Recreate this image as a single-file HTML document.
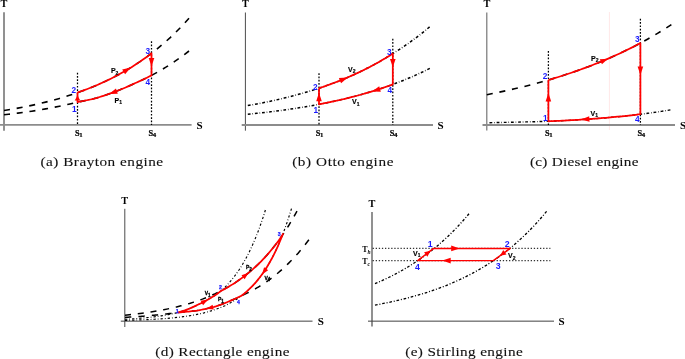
<!DOCTYPE html>
<html><head><meta charset="utf-8"><title>Engine cycles</title>
<style>
html,body{margin:0;padding:0;background:#fff;}
svg{display:block;}
</style></head>
<body>
<svg width="685" height="359" viewBox="0 0 685 359">
<rect width="685" height="359" fill="#fff"/>
<line x1="4.00" y1="12.30" x2="4.00" y2="130.70" stroke="#8c8c8c" stroke-width="1.9"/>
<line x1="0.00" y1="124.90" x2="191.60" y2="124.90" stroke="#8c8c8c" stroke-width="1.9"/>
<path d="M4.00,110.50 L8.62,109.75 L13.25,108.96 L17.88,108.13 L22.50,107.25 L27.12,106.33 L31.75,105.36 L36.38,104.35 L41.00,103.27 L45.62,102.15 L50.25,100.96 L54.88,99.71 L59.50,98.40 L64.12,97.02 L68.75,95.56 L73.38,94.03 L78.00,92.43 L82.62,90.77 L87.25,89.03 L91.88,87.20 L96.50,85.28 L101.12,83.25 L105.75,81.13 L110.38,78.90 L115.00,76.55 L119.62,74.08 L124.25,71.49 L128.88,68.77 L133.50,65.90 L138.12,62.89 L142.75,59.73 L147.38,56.41 L152.00,52.92 L156.62,49.30 L161.25,45.49 L165.88,41.50 L170.50,37.30 L175.12,32.90 L179.75,28.27 L184.38,23.41 L189.00,18.30" fill="none" stroke="#000" stroke-width="1.6" stroke-dasharray="6.026 6.803" stroke-linecap="butt" stroke-linejoin="round"/>
<path d="M4.00,114.80 L8.62,114.27 L13.25,113.71 L17.88,113.12 L22.50,112.50 L27.12,111.85 L31.75,111.17 L36.38,110.44 L41.00,109.68 L45.62,108.88 L50.25,108.04 L54.88,107.15 L59.50,106.22 L64.12,105.24 L68.75,104.21 L73.38,103.12 L78.00,102.00 L82.62,101.10 L87.25,100.16 L91.88,99.18 L96.50,98.04 L101.12,96.59 L105.75,95.05 L110.38,93.43 L115.00,91.72 L119.62,89.92 L124.25,88.02 L128.88,86.02 L133.50,83.91 L138.12,81.82 L142.75,79.70 L147.38,77.48 L152.00,75.13 L156.62,72.61 L161.25,69.96 L165.88,67.18 L170.50,64.26 L175.12,61.18 L179.75,57.96 L184.38,54.56 L189.00,51.00" fill="none" stroke="#000" stroke-width="1.6" stroke-dasharray="6.025 6.802" stroke-linecap="butt" stroke-linejoin="round"/>
<line x1="77.50" y1="72.70" x2="77.50" y2="124.90" stroke="#000" stroke-width="1.25" stroke-dasharray="1.7 1.6"/>
<line x1="151.50" y1="41.30" x2="151.50" y2="124.90" stroke="#000" stroke-width="1.25" stroke-dasharray="1.7 1.6"/>
<path d="M77.50,92.60 L79.35,91.95 L81.20,91.29 L83.05,90.61 L84.90,89.92 L86.75,89.22 L88.60,88.50 L90.45,87.77 L92.30,87.03 L94.15,86.26 L96.00,85.49 L97.85,84.70 L99.70,83.89 L101.55,83.06 L103.40,82.22 L105.25,81.36 L107.10,80.49 L108.95,79.60 L110.80,78.69 L112.65,77.76 L114.50,76.81 L116.35,75.84 L118.20,74.86 L120.05,73.85 L121.90,72.83 L123.75,71.78 L125.60,70.71 L127.45,69.62 L129.30,68.51 L131.15,67.38 L133.00,66.22 L134.85,65.04 L136.70,63.84 L138.55,62.61 L140.40,61.36 L142.25,60.08 L144.10,58.78 L145.95,57.45 L147.80,56.09 L149.65,54.71 L151.50,53.30 L151.50,75.40 L149.65,76.34 L147.80,77.27 L145.95,78.17 L144.10,79.06 L142.25,79.94 L140.40,80.79 L138.55,81.63 L136.70,82.46 L134.85,83.27 L133.00,84.14 L131.15,84.99 L129.30,85.83 L127.45,86.65 L125.60,87.45 L123.75,88.23 L121.90,89.00 L120.05,89.75 L118.20,90.48 L116.35,91.20 L114.50,91.91 L112.65,92.60 L110.80,93.28 L108.95,93.94 L107.10,94.58 L105.25,95.22 L103.40,95.84 L101.55,96.45 L99.70,97.04 L97.85,97.63 L96.00,98.20 L94.15,98.69 L92.30,99.09 L90.45,99.49 L88.60,99.88 L86.75,100.26 L84.90,100.64 L83.05,101.01 L81.20,101.38 L79.35,101.74 L77.50,102.10 L77.50,92.60" fill="none" stroke="#ff0000" stroke-width="1.75" stroke-linecap="butt" stroke-linejoin="round"/>
<polygon points="130.80,67.59 125.10,74.37 122.17,69.59" fill="#ff0000"/>
<polygon points="151.50,66.40 148.70,58.00 154.30,58.00" fill="#ff0000"/>
<polygon points="109.00,93.92 115.97,88.45 117.85,93.73" fill="#ff0000"/>
<polygon points="77.50,95.40 80.30,100.40 74.70,100.40" fill="#ff0000"/>
<text x="71.40" y="92.80" font-family='"Liberation Sans", Arial, sans-serif' font-size="8.3" font-weight="bold" fill="#1a1aff" text-anchor="start">2</text>
<text x="71.90" y="112.40" font-family='"Liberation Sans", Arial, sans-serif' font-size="8.3" font-weight="bold" fill="#1a1aff" text-anchor="start">1</text>
<text x="145.40" y="54.40" font-family='"Liberation Sans", Arial, sans-serif' font-size="8.3" font-weight="bold" fill="#1a1aff" text-anchor="start">3</text>
<text x="145.40" y="85.40" font-family='"Liberation Sans", Arial, sans-serif' font-size="8.3" font-weight="bold" fill="#1a1aff" text-anchor="start">4</text>
<text x="110.90" y="73.00" font-family='"Liberation Sans", Arial, sans-serif' font-size="7" font-weight="bold" fill="#000" text-anchor="start" stroke="#000" stroke-width="0.15">P<tspan font-size="5" dy="1.5">2</tspan></text>
<text x="114.60" y="102.50" font-family='"Liberation Sans", Arial, sans-serif' font-size="7" font-weight="bold" fill="#000" text-anchor="start" stroke="#000" stroke-width="0.15">P<tspan font-size="5" dy="1.5">1</tspan></text>
<text x="75.00" y="136.00" font-family='"Liberation Serif", "Times New Roman", serif' font-size="8.3" font-weight="bold" fill="#000" text-anchor="start" stroke="#000" stroke-width="0.2">S<tspan font-size="6.8" dy="1.1" dx="-0.4">1</tspan></text>
<text x="148.40" y="136.00" font-family='"Liberation Serif", "Times New Roman", serif' font-size="8.3" font-weight="bold" fill="#000" text-anchor="start" stroke="#000" stroke-width="0.2">S<tspan font-size="6.8" dy="1.1" dx="-0.4">4</tspan></text>
<text x="196.60" y="128.70" font-family='"Liberation Serif", "Times New Roman", serif' font-size="11" font-weight="bold" fill="#000" text-anchor="start">S</text>
<text x="4.00" y="6.70" font-family='"Liberation Serif", "Times New Roman", serif' font-size="10.3" font-weight="bold" fill="#000" text-anchor="middle">T</text>
<line x1="245.40" y1="12.50" x2="245.40" y2="130.70" stroke="#4c4c4c" stroke-width="1.0"/>
<line x1="241.70" y1="125.00" x2="433.00" y2="125.00" stroke="#8c8c8c" stroke-width="1.9"/>
<path d="M247.80,105.60 L252.34,104.79 L256.89,103.95 L261.44,103.07 L265.98,102.15 L270.53,101.20 L275.07,100.21 L279.62,99.17 L284.16,98.10 L288.71,96.98 L293.25,95.81 L297.80,94.59 L302.34,93.32 L306.88,92.00 L311.43,90.62 L315.98,89.19 L320.52,87.69 L325.07,86.14 L329.61,84.52 L334.16,82.83 L338.70,81.08 L343.25,79.25 L347.79,77.34 L352.34,75.36 L356.88,73.29 L361.43,71.13 L365.97,68.89 L370.51,66.55 L375.06,64.12 L379.61,61.58 L384.15,58.94 L388.70,56.18 L393.24,53.33 L397.79,50.46 L402.33,47.48 L406.88,44.38 L411.42,41.15 L415.97,37.79 L420.51,34.30 L425.06,30.67 L429.60,26.90" fill="none" stroke="#000" stroke-width="1.5" stroke-dasharray="2.848 1.933 0.610 1.933" stroke-linecap="butt" stroke-linejoin="round"/>
<path d="M247.80,114.30 L252.35,113.84 L256.90,113.36 L261.45,112.86 L266.00,112.33 L270.55,111.79 L275.10,111.22 L279.65,110.63 L284.20,110.01 L288.75,109.36 L293.30,108.69 L297.85,107.98 L302.40,107.25 L306.95,106.49 L311.50,105.69 L316.05,104.86 L320.60,104.00 L325.15,103.10 L329.70,102.18 L334.25,101.21 L338.80,100.20 L343.35,99.15 L347.90,98.05 L352.45,96.91 L357.00,95.72 L361.55,94.48 L366.10,93.18 L370.65,91.83 L375.20,90.43 L379.75,88.96 L384.30,87.43 L388.85,85.84 L393.40,84.18 L397.95,82.48 L402.50,80.71 L407.05,78.86 L411.60,76.93 L416.15,74.93 L420.70,72.84 L425.25,70.67 L429.80,68.40" fill="none" stroke="#000" stroke-width="1.5" stroke-dasharray="2.782 1.888 0.596 1.888" stroke-linecap="butt" stroke-linejoin="round"/>
<line x1="319.00" y1="73.20" x2="319.00" y2="125.00" stroke="#000" stroke-width="1.25" stroke-dasharray="1.7 1.6"/>
<line x1="392.80" y1="38.80" x2="392.80" y2="125.00" stroke="#000" stroke-width="1.25" stroke-dasharray="1.7 1.6"/>
<path d="M319.00,88.20 L320.85,87.59 L322.69,86.96 L324.54,86.32 L326.38,85.68 L328.23,85.02 L330.07,84.35 L331.92,83.67 L333.76,82.98 L335.61,82.28 L337.45,81.57 L339.30,80.84 L341.14,80.10 L342.99,79.35 L344.83,78.59 L346.68,77.82 L348.52,77.03 L350.37,76.23 L352.21,75.41 L354.06,74.58 L355.90,73.74 L357.75,72.88 L359.59,72.01 L361.44,71.13 L363.28,70.23 L365.12,69.31 L366.97,68.38 L368.81,67.44 L370.66,66.47 L372.50,65.50 L374.35,64.50 L376.19,63.49 L378.04,62.46 L379.88,61.42 L381.73,60.36 L383.58,59.28 L385.42,58.18 L387.26,57.06 L389.11,55.93 L390.96,54.77 L392.80,53.60 L392.80,84.40 L390.96,85.08 L389.11,85.74 L387.26,86.40 L385.42,87.04 L383.58,87.68 L381.73,88.30 L379.88,88.91 L378.04,89.52 L376.19,90.11 L374.35,90.69 L372.50,91.27 L370.66,91.83 L368.81,92.38 L366.97,92.93 L365.12,93.46 L363.28,93.99 L361.44,94.51 L359.59,95.02 L357.75,95.52 L355.90,96.01 L354.06,96.49 L352.21,96.97 L350.37,97.44 L348.52,97.90 L346.68,98.35 L344.83,98.80 L342.99,99.23 L341.14,99.66 L339.30,100.09 L337.45,100.50 L335.61,100.91 L333.76,101.31 L331.92,101.71 L330.07,102.10 L328.23,102.48 L326.38,102.86 L324.54,103.23 L322.69,103.59 L320.85,103.95 L319.00,104.30 L319.00,88.20" fill="none" stroke="#ff0000" stroke-width="1.75" stroke-linecap="butt" stroke-linejoin="round"/>
<polygon points="347.70,77.38 341.08,83.25 338.88,78.10" fill="#ff0000"/>
<polygon points="392.80,67.30 390.00,58.90 395.60,58.90" fill="#ff0000"/>
<polygon points="372.00,91.42 379.22,86.29 380.85,91.64" fill="#ff0000"/>
<polygon points="319.00,92.80 321.80,101.20 316.20,101.20" fill="#ff0000"/>
<text x="312.90" y="89.50" font-family='"Liberation Sans", Arial, sans-serif' font-size="8.3" font-weight="bold" fill="#1a1aff" text-anchor="start">2</text>
<text x="313.40" y="112.50" font-family='"Liberation Sans", Arial, sans-serif' font-size="8.3" font-weight="bold" fill="#1a1aff" text-anchor="start">1</text>
<text x="386.90" y="54.70" font-family='"Liberation Sans", Arial, sans-serif' font-size="8.3" font-weight="bold" fill="#1a1aff" text-anchor="start">3</text>
<text x="387.40" y="93.00" font-family='"Liberation Sans", Arial, sans-serif' font-size="8.3" font-weight="bold" fill="#1a1aff" text-anchor="start">4</text>
<text x="348.00" y="71.50" font-family='"Liberation Sans", Arial, sans-serif' font-size="7" font-weight="bold" fill="#000" text-anchor="start" stroke="#000" stroke-width="0.15">V<tspan font-size="5" dy="1.5">2</tspan></text>
<text x="352.00" y="104.00" font-family='"Liberation Sans", Arial, sans-serif' font-size="7" font-weight="bold" fill="#000" text-anchor="start" stroke="#000" stroke-width="0.15">V<tspan font-size="5" dy="1.5">1</tspan></text>
<text x="315.70" y="136.00" font-family='"Liberation Serif", "Times New Roman", serif' font-size="8.3" font-weight="bold" fill="#000" text-anchor="start" stroke="#000" stroke-width="0.2">S<tspan font-size="6.8" dy="1.1" dx="-0.4">1</tspan></text>
<text x="389.70" y="136.00" font-family='"Liberation Serif", "Times New Roman", serif' font-size="8.3" font-weight="bold" fill="#000" text-anchor="start" stroke="#000" stroke-width="0.2">S<tspan font-size="6.8" dy="1.1" dx="-0.4">4</tspan></text>
<text x="437.50" y="128.70" font-family='"Liberation Serif", "Times New Roman", serif' font-size="11" font-weight="bold" fill="#000" text-anchor="start">S</text>
<text x="245.45" y="6.70" font-family='"Liberation Serif", "Times New Roman", serif' font-size="10.3" font-weight="bold" fill="#000" text-anchor="middle">T</text>
<line x1="609.40" y1="12.00" x2="609.40" y2="130.00" stroke="#ffd6d6" stroke-width="0.6"/>
<line x1="486.80" y1="12.50" x2="486.80" y2="130.50" stroke="#707070" stroke-width="1.15"/>
<line x1="482.50" y1="124.95" x2="675.00" y2="124.95" stroke="#8c8c8c" stroke-width="1.9"/>
<path d="M486.80,94.70 L491.42,93.79 L496.03,92.85 L500.64,91.88 L505.26,90.89 L509.88,89.86 L514.49,88.81 L519.11,87.72 L523.72,86.60 L528.34,85.44 L532.95,84.25 L537.57,83.02 L542.18,81.76 L546.79,80.46 L551.41,79.11 L556.02,77.71 L560.64,76.27 L565.25,74.78 L569.87,73.25 L574.49,71.67 L579.10,70.05 L583.72,68.37 L588.33,66.65 L592.94,64.87 L597.56,63.03 L602.17,61.14 L606.79,59.20 L611.40,57.19 L616.02,55.12 L620.63,52.99 L625.25,50.79 L629.87,48.53 L634.48,46.20 L639.10,43.79 L643.71,41.30 L648.33,38.72 L652.94,36.07 L657.55,33.33 L662.17,30.51 L666.78,27.60 L671.40,24.60" fill="none" stroke="#000" stroke-width="1.6" stroke-dasharray="6.035 6.814" stroke-linecap="butt" stroke-linejoin="round"/>
<path d="M489.50,122.70 L494.02,122.61 L498.55,122.53 L503.07,122.43 L507.59,122.34 L512.11,122.24 L516.63,122.14 L521.16,122.03 L525.68,121.92 L530.20,121.81 L534.73,121.69 L539.25,121.56 L543.77,121.44 L548.29,121.30 L552.81,121.11 L557.34,120.90 L561.86,120.68 L566.38,120.44 L570.90,120.20 L575.43,119.94 L579.95,119.66 L584.47,119.38 L589.00,119.07 L593.52,118.75 L598.04,118.41 L602.56,118.06 L607.09,117.68 L611.61,117.28 L616.13,116.87 L620.65,116.42 L625.17,115.96 L629.70,115.47 L634.22,114.95 L638.74,114.41 L643.26,113.85 L647.79,113.27 L652.31,112.66 L656.83,112.02 L661.36,111.35 L665.88,110.64 L670.40,109.90" fill="none" stroke="#000" stroke-width="1.4" stroke-dasharray="2.780 1.887 0.596 1.887" stroke-linecap="butt" stroke-linejoin="round"/>
<line x1="548.40" y1="51.00" x2="548.40" y2="124.95" stroke="#000" stroke-width="1.25" stroke-dasharray="1.7 1.6"/>
<line x1="640.40" y1="18.80" x2="640.40" y2="124.95" stroke="#000" stroke-width="1.25" stroke-dasharray="1.7 1.6"/>
<path d="M548.40,80.00 L550.70,79.32 L553.00,78.63 L555.30,77.93 L557.60,77.22 L559.90,76.50 L562.20,75.77 L564.50,75.03 L566.80,74.28 L569.10,73.51 L571.40,72.73 L573.70,71.95 L576.00,71.15 L578.30,70.33 L580.60,69.51 L582.90,68.67 L585.20,67.82 L587.50,66.96 L589.80,66.08 L592.10,65.20 L594.40,64.29 L596.70,63.38 L599.00,62.45 L601.30,61.51 L603.60,60.55 L605.90,59.58 L608.20,58.59 L610.50,57.59 L612.80,56.57 L615.10,55.54 L617.40,54.49 L619.70,53.43 L622.00,52.35 L624.30,51.25 L626.60,50.14 L628.90,49.01 L631.20,47.86 L633.50,46.70 L635.80,45.52 L638.10,44.32 L640.40,43.10 L640.40,114.20 L638.10,114.49 L635.80,114.77 L633.50,115.04 L631.20,115.30 L628.90,115.56 L626.60,115.81 L624.30,116.05 L622.00,116.29 L619.70,116.52 L617.40,116.74 L615.10,116.96 L612.80,117.18 L610.50,117.38 L608.20,117.58 L605.90,117.78 L603.60,117.97 L601.30,118.16 L599.00,118.34 L596.70,118.51 L594.40,118.69 L592.10,118.85 L589.80,119.02 L587.50,119.17 L585.20,119.33 L582.90,119.48 L580.60,119.62 L578.30,119.76 L576.00,119.90 L573.70,120.04 L571.40,120.17 L569.10,120.30 L566.80,120.42 L564.50,120.54 L562.20,120.66 L559.90,120.77 L557.60,120.88 L555.30,120.99 L553.00,121.10 L550.70,121.20 L548.40,121.30 L548.40,80.00" fill="none" stroke="#ff0000" stroke-width="1.75" stroke-linecap="butt" stroke-linejoin="round"/>
<polygon points="608.00,58.67 601.94,64.32 599.73,59.18" fill="#ff0000"/>
<polygon points="640.40,75.00 637.60,66.60 643.20,66.60" fill="#ff0000"/>
<polygon points="581.00,119.60 589.21,116.27 589.56,121.86" fill="#ff0000"/>
<polygon points="548.40,93.00 551.20,101.40 545.60,101.40" fill="#ff0000"/>
<text x="542.70" y="79.00" font-family='"Liberation Sans", Arial, sans-serif' font-size="8.3" font-weight="bold" fill="#1a1aff" text-anchor="start">2</text>
<text x="542.90" y="121.00" font-family='"Liberation Sans", Arial, sans-serif' font-size="8.3" font-weight="bold" fill="#1a1aff" text-anchor="start">1</text>
<text x="635.10" y="41.50" font-family='"Liberation Sans", Arial, sans-serif' font-size="8.3" font-weight="bold" fill="#1a1aff" text-anchor="start">3</text>
<text x="634.90" y="121.50" font-family='"Liberation Sans", Arial, sans-serif' font-size="8.3" font-weight="bold" fill="#1a1aff" text-anchor="start">4</text>
<text x="591.00" y="60.80" font-family='"Liberation Sans", Arial, sans-serif' font-size="7" font-weight="bold" fill="#000" text-anchor="start" stroke="#000" stroke-width="0.15">P<tspan font-size="5" dy="1.5">2</tspan></text>
<text x="590.50" y="115.50" font-family='"Liberation Sans", Arial, sans-serif' font-size="7" font-weight="bold" fill="#000" text-anchor="start" stroke="#000" stroke-width="0.15">V<tspan font-size="5" dy="1.5">1</tspan></text>
<text x="545.10" y="136.00" font-family='"Liberation Serif", "Times New Roman", serif' font-size="8.3" font-weight="bold" fill="#000" text-anchor="start" stroke="#000" stroke-width="0.2">S<tspan font-size="6.8" dy="1.1" dx="-0.4">1</tspan></text>
<text x="637.50" y="136.00" font-family='"Liberation Serif", "Times New Roman", serif' font-size="8.3" font-weight="bold" fill="#000" text-anchor="start" stroke="#000" stroke-width="0.2">S<tspan font-size="6.8" dy="1.1" dx="-0.4">4</tspan></text>
<text x="680.00" y="128.70" font-family='"Liberation Serif", "Times New Roman", serif' font-size="11" font-weight="bold" fill="#000" text-anchor="start">S</text>
<text x="486.85" y="6.70" font-family='"Liberation Serif", "Times New Roman", serif' font-size="10.3" font-weight="bold" fill="#000" text-anchor="middle">T</text>
<line x1="124.80" y1="208.80" x2="124.80" y2="327.00" stroke="#4c4c4c" stroke-width="1.0"/>
<line x1="120.80" y1="321.15" x2="312.50" y2="321.15" stroke="#404040" stroke-width="1.0"/>
<path d="M125.00,315.24 L129.30,314.79 L133.60,314.30 L137.90,313.79 L142.20,313.23 L146.50,312.63 L150.80,311.98 L155.10,311.28 L159.40,310.54 L163.70,309.73 L168.00,308.87 L172.30,307.93 L176.60,306.93 L180.90,305.85 L185.20,304.69 L189.50,303.45 L193.80,302.10 L198.10,300.66 L202.40,299.10 L206.70,297.43 L211.00,295.63 L215.30,293.70 L219.60,291.62 L223.90,289.38 L228.20,286.97 L232.50,284.37 L236.80,281.59 L241.10,278.58 L245.40,275.36 L249.70,271.88 L254.00,268.15 L258.30,264.13 L262.60,259.80 L266.90,255.15 L271.20,250.15 L275.50,244.76 L279.80,238.97 L284.10,232.73 L288.40,226.03 L292.70,218.82 L297.00,211.06" fill="none" stroke="#000" stroke-width="1.5" stroke-dasharray="6.036 6.815" stroke-linecap="butt" stroke-linejoin="round"/>
<path d="M125.00,317.40 L126.53,317.31 L128.06,317.22 L129.60,317.12 L131.13,317.02 L132.66,316.92 L134.19,316.82 L135.73,316.71 L137.26,316.60 L138.79,316.49 L140.32,316.38 L141.86,316.26 L143.39,316.14 L144.92,316.02 L146.45,315.90 L147.99,315.77 L149.52,315.64 L151.05,315.51 L152.59,315.37 L154.12,315.23 L155.65,315.08 L157.18,314.93 L158.72,314.78 L160.25,314.63 L161.78,314.47 L163.31,314.31 L164.84,314.14 L166.38,313.97 L167.91,313.79 L169.44,313.62 L170.97,313.43 L172.51,313.24 L174.04,313.05 L175.57,312.85 L177.10,312.65 L178.64,312.50 L180.17,312.35 L181.70,312.21 L183.23,312.06 L184.77,311.91 L186.30,311.75 L187.83,311.60 L189.37,311.44 L190.90,311.28 L192.43,311.12 L193.96,310.95 L195.50,310.78 L197.03,310.61 L198.56,310.32 L200.09,310.02 L201.62,309.71 L203.16,309.39 L204.69,309.07 L206.22,308.73 L207.75,308.39 L209.29,308.03 L210.82,307.67 L212.35,307.30 L213.88,306.91 L215.42,306.50 L216.95,306.00 L218.48,305.48 L220.01,304.94 L221.55,304.38 L223.08,303.81 L224.61,303.21 L226.14,302.60 L227.68,301.96 L229.21,301.31 L230.74,300.63 L232.27,299.94 L233.81,299.29 L235.34,298.63 L236.87,297.94 L238.40,297.24 L239.94,296.51 L241.47,295.77 L243.00,295.08 L244.53,294.37 L246.07,293.64 L247.60,292.89 L249.13,292.12 L250.66,291.32 L252.20,290.51 L253.73,289.68 L255.26,288.82 L256.79,287.94 L258.33,287.03 L259.86,286.10 L261.39,285.15 L262.92,284.16 L264.46,283.16 L265.99,282.12 L267.52,281.06 L269.05,279.96 L270.59,278.84 L272.12,277.69 L273.65,276.50 L275.18,275.29 L276.72,274.04 L278.25,272.75 L279.78,271.43 L281.31,270.08 L282.85,268.68 L284.38,267.25 L285.91,265.79 L287.44,264.34 L288.98,262.86 L290.51,261.34 L292.04,259.78 L293.57,258.18 L295.11,256.54 L296.64,254.85 L298.17,253.13 L299.70,251.35 L301.24,249.53 L302.77,247.67 L304.30,245.75 L305.83,243.79 L307.37,241.77 L308.90,239.70" fill="none" stroke="#000" stroke-width="1.5" stroke-dasharray="6.319 7.134" stroke-linecap="butt" stroke-linejoin="round"/>
<path d="M125.00,319.30 L126.17,319.24 L127.34,319.17 L128.51,319.10 L129.68,319.03 L130.85,318.96 L132.02,318.88 L133.19,318.80 L134.36,318.72 L135.53,318.64 L136.70,318.55 L137.87,318.46 L139.04,318.36 L140.21,318.27 L141.38,318.17 L142.55,318.06 L143.72,317.96 L144.89,317.85 L146.06,317.73 L147.23,317.61 L148.40,317.49 L149.57,317.36 L150.74,317.23 L151.91,317.10 L153.08,316.95 L154.25,316.81 L155.42,316.66 L156.59,316.50 L157.76,316.34 L158.93,316.17 L160.10,316.00 L161.27,315.82 L162.44,315.64 L163.61,315.45 L164.78,315.25 L165.95,315.04 L167.12,314.83 L168.29,314.61 L169.46,314.39 L170.63,314.15 L171.80,313.91 L172.97,313.66 L174.14,313.40 L175.31,313.13 L176.48,312.85 L177.65,312.56 L178.82,312.23 L179.99,311.89 L181.16,311.53 L182.33,311.16 L183.50,310.78 L184.67,310.38 L185.84,309.97 L187.01,309.54 L188.18,309.10 L189.35,308.64 L190.52,308.16 L191.69,307.66 L192.86,307.14 L194.03,306.61 L195.20,306.05 L196.37,305.47 L197.54,304.91 L198.71,304.38 L199.88,303.83 L201.05,303.27 L202.22,302.69 L203.39,302.09 L204.56,301.47 L205.73,300.83 L206.90,300.17 L208.07,299.51 L209.24,298.85 L210.41,298.17 L211.58,297.46 L212.75,296.73 L213.92,295.99 L215.09,295.21 L216.26,294.42 L217.43,293.60 L218.60,292.75 L219.77,291.88 L220.94,290.98 L222.11,289.97 L223.28,288.88 L224.45,287.75 L225.62,286.58 L226.79,285.37 L227.96,284.12 L229.13,282.83 L230.30,281.49 L231.47,280.10 L232.64,278.67 L233.81,277.19 L234.98,275.65 L236.15,274.06 L237.32,272.41 L238.49,270.71 L239.66,268.95 L240.83,267.12 L242.00,265.23 L243.17,263.28 L244.34,261.26 L245.51,259.16 L246.68,257.00 L247.85,254.76 L249.02,252.44 L250.19,250.03 L251.36,247.55 L252.53,244.98 L253.70,242.31 L254.87,239.56 L256.04,236.71 L257.21,233.76 L258.38,230.70 L259.55,227.54 L260.72,224.27 L261.89,220.88 L263.06,217.38 L264.23,213.75 L265.40,210.00" fill="none" stroke="#000" stroke-width="1.15" stroke-dasharray="2.284 1.986 0.794 2.085" stroke-linecap="butt" stroke-linejoin="round"/>
<path d="M125.00,320.36 L129.16,320.26 L133.32,320.14 L137.49,320.01 L141.65,319.86 L145.81,319.68 L149.97,319.49 L154.14,319.27 L158.30,319.02 L162.46,318.74 L166.62,318.42 L170.79,318.06 L174.95,317.66 L179.11,317.20 L183.28,316.67 L187.44,316.08 L191.60,315.41 L195.76,314.66 L199.93,313.80 L204.09,312.83 L208.25,311.73 L212.41,310.48 L216.57,309.08 L220.74,307.48 L224.90,305.68 L229.06,303.63 L233.22,301.32 L237.39,298.70 L241.55,295.74 L245.71,292.38 L249.88,288.58 L254.04,284.28 L258.20,279.41 L262.36,273.90 L266.52,267.66 L270.69,260.59 L274.85,252.60 L279.01,243.54 L283.18,233.29 L287.34,221.69 L291.50,208.56" fill="none" stroke="#000" stroke-width="1.15" stroke-dasharray="2.276 1.980 0.792 2.078" stroke-linecap="butt" stroke-linejoin="round"/>
<path d="M177.50,312.60 L178.59,312.29 L179.69,311.98 L180.78,311.65 L181.88,311.31 L182.97,310.96 L184.07,310.59 L185.16,310.21 L186.26,309.82 L187.35,309.41 L188.45,308.99 L189.55,308.56 L190.64,308.11 L191.74,307.64 L192.83,307.16 L193.93,306.66 L195.02,306.14 L196.12,305.60 L197.21,305.05 L198.31,304.56 L199.40,304.06 L200.50,303.54 L201.59,303.00 L202.69,302.45 L203.78,301.88 L204.88,301.30 L205.97,300.69 L207.06,300.07 L208.16,299.46 L209.25,298.84 L210.35,298.20 L211.44,297.54 L212.54,296.87 L213.63,296.17 L214.73,295.45 L215.83,294.72 L216.92,293.96 L218.02,293.18 L219.11,292.37 L220.21,291.55 L221.30,290.70 L221.30,290.75 L222.84,289.94 L224.39,289.11 L225.93,288.26 L227.47,287.39 L229.01,286.49 L230.56,285.57 L232.10,284.62 L233.64,283.65 L235.18,282.66 L236.73,281.64 L238.27,280.59 L239.81,279.51 L241.35,278.40 L242.90,277.27 L244.44,276.10 L245.98,274.90 L247.52,273.67 L249.06,272.41 L250.61,271.12 L252.15,269.79 L253.69,268.42 L255.24,267.02 L256.78,265.58 L258.32,264.11 L259.86,262.59 L261.41,261.04 L262.95,259.44 L264.49,257.80 L266.03,256.12 L267.57,254.39 L269.12,252.62 L270.66,250.79 L272.20,248.93 L273.75,247.01 L275.29,245.04 L276.83,243.01 L278.37,240.94 L279.92,238.81 L281.46,236.62 L283.00,234.37 L283.00,233.75 L281.96,236.42 L280.92,239.00 L279.88,241.51 L278.84,243.94 L277.80,246.30 L276.76,248.58 L275.72,250.80 L274.68,252.94 L273.64,255.02 L272.60,257.04 L271.56,259.00 L270.52,260.90 L269.48,262.73 L268.44,264.52 L267.40,266.25 L266.36,267.92 L265.32,269.54 L264.28,271.12 L263.24,272.65 L262.20,274.13 L261.16,275.56 L260.12,276.95 L259.08,278.30 L258.04,279.61 L257.00,280.88 L255.96,282.11 L254.92,283.30 L253.88,284.45 L252.84,285.57 L251.80,286.66 L250.76,287.71 L249.72,288.73 L248.68,289.72 L247.64,290.68 L246.60,291.61 L245.56,292.51 L244.52,293.38 L243.48,294.23 L242.44,295.05 L241.40,295.85 L241.40,295.80 L239.80,296.58 L238.21,297.33 L236.61,298.06 L235.01,298.77 L233.41,299.46 L231.81,300.14 L230.22,300.86 L228.62,301.56 L227.02,302.24 L225.43,302.89 L223.83,303.52 L222.23,304.13 L220.63,304.72 L219.03,305.28 L217.44,305.83 L215.84,306.36 L214.24,306.82 L212.65,307.22 L211.05,307.62 L209.45,308.00 L207.85,308.37 L206.25,308.73 L204.66,309.08 L203.06,309.42 L201.46,309.75 L199.87,310.07 L198.27,310.38 L196.67,310.65 L195.07,310.83 L193.47,311.00 L191.88,311.17 L190.28,311.34 L188.68,311.51 L187.09,311.67 L185.49,311.84 L183.89,311.99 L182.29,312.15 L180.69,312.30 L179.10,312.45 L177.50,312.60" fill="none" stroke="#ff0000" stroke-width="1.75" stroke-linecap="butt" stroke-linejoin="round"/>
<polygon points="208.00,299.55 203.09,305.13 200.66,300.75" fill="#ff0000"/>
<polygon points="248.50,272.87 244.66,279.24 241.50,275.37" fill="#ff0000"/>
<polygon points="262.00,274.40 264.08,267.27 268.13,270.20" fill="#ff0000"/>
<polygon points="206.30,308.72 212.58,304.74 213.68,309.62" fill="#ff0000"/>
<text x="175.80" y="312.60" font-family='"Liberation Sans", Arial, sans-serif' font-size="5.4" font-weight="bold" fill="#1a1aff" text-anchor="start" stroke="#1a1aff" stroke-width="0.25">1</text>
<text x="219.00" y="289.00" font-family='"Liberation Sans", Arial, sans-serif' font-size="5.2" font-weight="bold" fill="#1a1aff" text-anchor="start" stroke="#1a1aff" stroke-width="0.25">2</text>
<text x="277.80" y="235.50" font-family='"Liberation Sans", Arial, sans-serif' font-size="5.2" font-weight="bold" fill="#1a1aff" text-anchor="start" stroke="#1a1aff" stroke-width="0.25">3</text>
<text x="237.00" y="303.50" font-family='"Liberation Sans", Arial, sans-serif' font-size="5.2" font-weight="bold" fill="#1a1aff" text-anchor="start" stroke="#1a1aff" stroke-width="0.25">4</text>
<text x="204.70" y="295.10" font-family='"Liberation Sans", Arial, sans-serif' font-size="5" font-weight="bold" fill="#000" text-anchor="start" stroke="#000" stroke-width="0.3">V<tspan font-size="4.6" dy="1.7">1</tspan></text>
<text x="217.90" y="301.40" font-family='"Liberation Sans", Arial, sans-serif' font-size="5" font-weight="bold" fill="#000" text-anchor="start" stroke="#000" stroke-width="0.3">P<tspan font-size="4.6" dy="1.9">1</tspan></text>
<text x="246.00" y="269.00" font-family='"Liberation Sans", Arial, sans-serif' font-size="5" font-weight="bold" fill="#000" text-anchor="start" stroke="#000" stroke-width="0.3">P<tspan font-size="4.6" dy="1.8">2</tspan></text>
<text x="264.50" y="279.60" font-family='"Liberation Sans", Arial, sans-serif' font-size="5" font-weight="bold" fill="#000" text-anchor="start" stroke="#000" stroke-width="0.3">V<tspan font-size="4.6" dy="1.8">4</tspan></text>
<text x="317.70" y="325.00" font-family='"Liberation Serif", "Times New Roman", serif' font-size="11" font-weight="bold" fill="#000" text-anchor="start">S</text>
<text x="124.80" y="203.60" font-family='"Liberation Serif", "Times New Roman", serif' font-size="10.3" font-weight="bold" fill="#000" text-anchor="middle">T</text>
<line x1="372.00" y1="212.00" x2="372.00" y2="326.60" stroke="#8c8c8c" stroke-width="1.9"/>
<line x1="368.00" y1="321.15" x2="554.00" y2="321.15" stroke="#404040" stroke-width="1.0"/>
<path d="M375.00,283.68 L377.35,282.68 L379.70,281.65 L382.05,280.60 L384.40,279.52 L386.75,278.41 L389.10,277.27 L391.45,276.10 L393.80,274.90 L396.15,273.66 L398.50,272.40 L400.85,271.10 L403.20,269.76 L405.55,268.39 L407.90,266.98 L410.25,265.54 L412.60,264.06 L414.95,262.53 L417.30,260.97 L419.65,259.37 L422.00,257.72 L424.35,256.03 L426.70,254.29 L429.05,252.51 L431.40,250.68 L433.75,248.80 L436.10,246.87 L438.45,244.88 L440.80,242.85 L443.15,240.76 L445.50,238.62 L447.85,236.42 L450.20,234.16 L452.55,231.84 L454.90,229.46 L457.25,227.01 L459.60,224.50 L461.95,221.92 L464.30,219.28 L466.65,216.56 L469.00,213.77" fill="none" stroke="#000" stroke-width="1.3" stroke-dasharray="2.612 1.808 1.005 1.808" stroke-linecap="butt" stroke-linejoin="round"/>
<path d="M375.00,305.08 L379.29,304.29 L383.58,303.46 L387.87,302.59 L392.16,301.68 L396.45,300.72 L400.74,299.71 L405.03,298.66 L409.32,297.55 L413.61,296.39 L417.90,295.17 L422.19,293.89 L426.48,292.55 L430.77,291.14 L435.06,289.66 L439.35,288.11 L443.64,286.49 L447.93,284.78 L452.22,282.99 L456.51,281.11 L460.80,279.14 L465.09,277.08 L469.38,274.91 L473.67,272.63 L477.96,270.24 L482.25,267.74 L486.54,265.11 L490.83,262.35 L495.12,259.46 L499.41,256.42 L503.70,253.23 L507.99,249.89 L512.28,246.38 L516.57,242.70 L520.86,238.84 L525.15,234.79 L529.44,230.54 L533.73,226.08 L538.02,221.40 L542.31,216.49 L546.60,211.34" fill="none" stroke="#000" stroke-width="1.3" stroke-dasharray="2.642 1.829 1.016 1.829" stroke-linecap="butt" stroke-linejoin="round"/>
<line x1="372.60" y1="248.40" x2="550.40" y2="248.40" stroke="#333" stroke-width="1.2" stroke-dasharray="1.3 1.8"/>
<line x1="372.60" y1="260.60" x2="550.40" y2="260.60" stroke="#333" stroke-width="1.2" stroke-dasharray="1.3 1.8"/>
<path d="M417.70,260.60 L433.60,248.40 L510.20,248.40 L493.30,260.60 L417.70,260.60 L433.60,248.40" fill="none" stroke="#ff0000" stroke-width="1.45" stroke-linecap="butt" stroke-linejoin="round"/>
<polygon points="459.60,248.40 451.20,251.20 451.20,245.60" fill="#ff0000"/>
<polygon points="442.30,260.60 450.70,257.80 450.70,263.40" fill="#ff0000"/>
<polygon points="430.50,250.80 427.44,256.67 424.04,252.23" fill="#ff0000"/>
<polygon points="500.00,255.80 503.23,250.02 506.50,254.56" fill="#ff0000"/>
<text x="427.80" y="247.10" font-family='"Liberation Sans", Arial, sans-serif' font-size="8.8" font-weight="bold" fill="#1a1aff" text-anchor="start">1</text>
<text x="504.70" y="247.10" font-family='"Liberation Sans", Arial, sans-serif' font-size="8.8" font-weight="bold" fill="#1a1aff" text-anchor="start">2</text>
<text x="495.70" y="268.90" font-family='"Liberation Sans", Arial, sans-serif' font-size="8.8" font-weight="bold" fill="#1a1aff" text-anchor="start">3</text>
<text x="415.00" y="269.70" font-family='"Liberation Sans", Arial, sans-serif' font-size="8.8" font-weight="bold" fill="#1a1aff" text-anchor="start">4</text>
<text x="413.00" y="255.50" font-family='"Liberation Sans", Arial, sans-serif' font-size="7" font-weight="bold" fill="#000" text-anchor="start" stroke="#000" stroke-width="0.15">V<tspan font-size="5" dy="1.5">1</tspan></text>
<text x="508.00" y="258.00" font-family='"Liberation Sans", Arial, sans-serif' font-size="7" font-weight="bold" fill="#000" text-anchor="start" stroke="#000" stroke-width="0.15">V<tspan font-size="5" dy="1.5">2</tspan></text>
<text x="362.20" y="252.00" font-family='"Liberation Serif", "Times New Roman", serif' font-size="8" font-weight="bold" fill="#000" text-anchor="start">T<tspan font-size="5.6" dy="1.5" font-style="italic">h</tspan></text>
<text x="362.20" y="264.10" font-family='"Liberation Serif", "Times New Roman", serif' font-size="8" font-weight="bold" fill="#000" text-anchor="start">T<tspan font-size="5.6" dy="1.5" font-style="italic">c</tspan></text>
<text x="558.60" y="325.00" font-family='"Liberation Serif", "Times New Roman", serif' font-size="11" font-weight="bold" fill="#000" text-anchor="start">S</text>
<text x="372.00" y="207.20" font-family='"Liberation Serif", "Times New Roman", serif' font-size="10.3" font-weight="bold" fill="#000" text-anchor="middle">T</text>
<text transform="translate(40.50,165.80) scale(1.27,1)" x="0" y="0" font-family='"Liberation Serif", "Times New Roman", serif' font-size="12" fill="#111" stroke="#111" stroke-width="0.09" textLength="96.54" lengthAdjust="spacing" xml:space="preserve">(a) Brayton engine</text>
<text transform="translate(292.20,165.80) scale(1.27,1)" x="0" y="0" font-family='"Liberation Serif", "Times New Roman", serif' font-size="12" fill="#111" stroke="#111" stroke-width="0.09" textLength="79.69" lengthAdjust="spacing" xml:space="preserve">(b) Otto engine</text>
<text transform="translate(529.90,165.80) scale(1.27,1)" x="0" y="0" font-family='"Liberation Serif", "Times New Roman", serif' font-size="12" fill="#111" stroke="#111" stroke-width="0.09" textLength="85.51" lengthAdjust="spacing" xml:space="preserve">(c) Diesel engine</text>
<text transform="translate(155.20,355.50) scale(1.27,1)" x="0" y="0" font-family='"Liberation Serif", "Times New Roman", serif' font-size="12" fill="#111" stroke="#111" stroke-width="0.09" textLength="105.75" lengthAdjust="spacing" xml:space="preserve">(d) Rectangle engine</text>
<text transform="translate(405.20,355.50) scale(1.27,1)" x="0" y="0" font-family='"Liberation Serif", "Times New Roman", serif' font-size="12" fill="#111" stroke="#111" stroke-width="0.09" textLength="92.52" lengthAdjust="spacing" xml:space="preserve">(e) Stirling engine</text>
</svg>
</body></html>
